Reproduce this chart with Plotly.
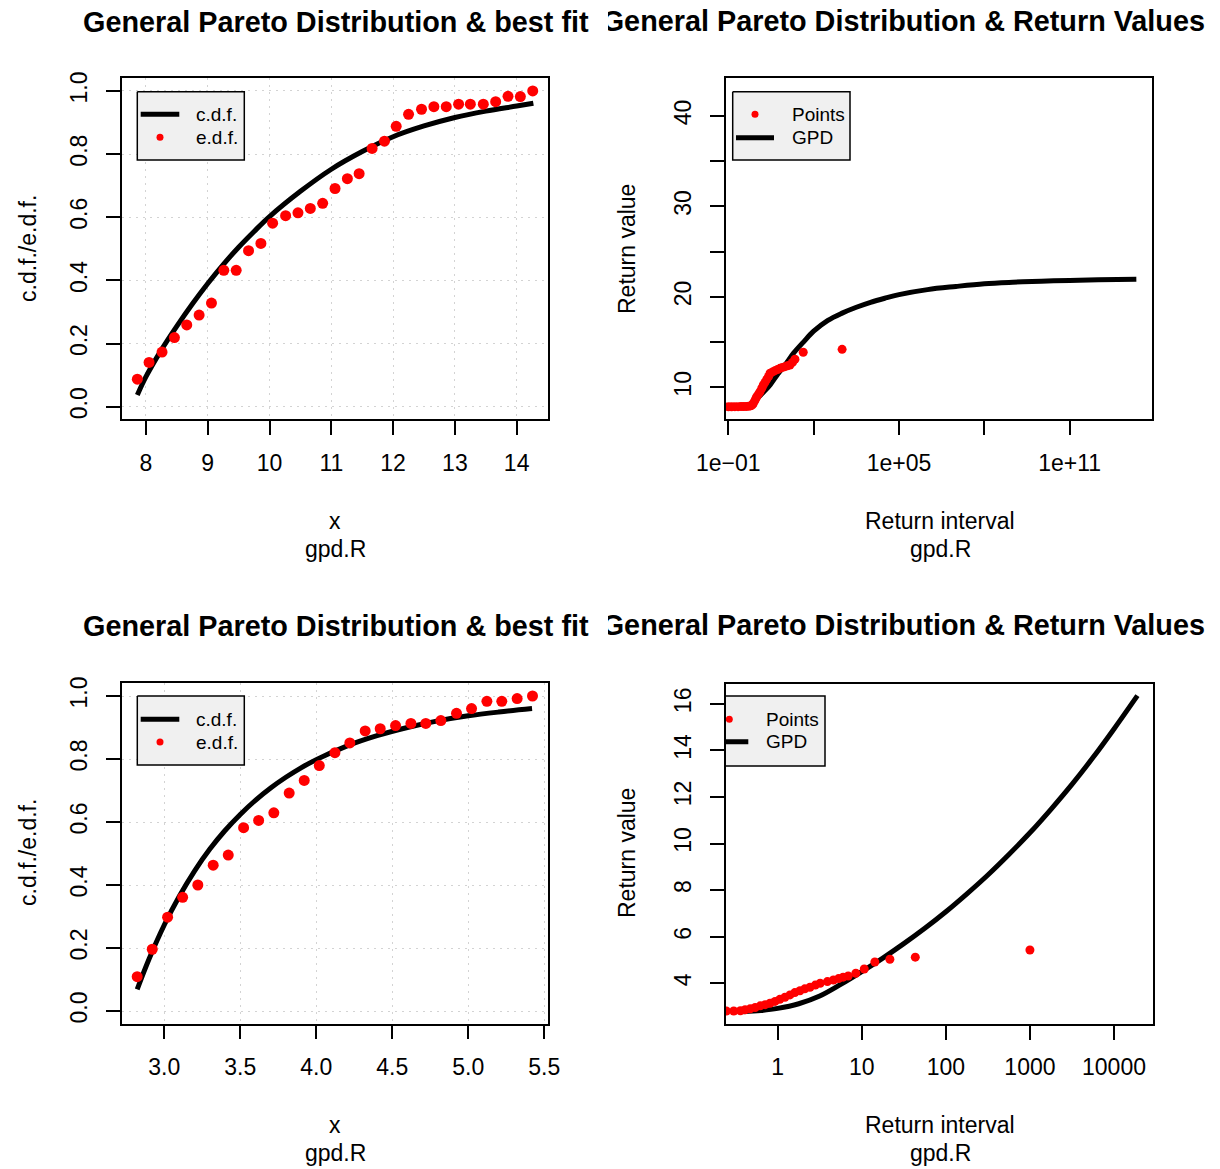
import plotly.graph_objects as go

# ---------------- data ----------------
# Panel 1: GPD best fit (dataset 1)
p1_edf_x = [7.86, 8.05, 8.26, 8.46, 8.66, 8.86, 9.06, 9.26, 9.46, 9.66, 9.86, 10.05, 10.26,
            10.46, 10.66, 10.86, 11.06, 11.26, 11.45, 11.66, 11.86, 12.05, 12.25, 12.46,
            12.66, 12.86, 13.06, 13.25, 13.46, 13.66, 13.86, 14.06, 14.26]
p1_edf_y = [0.087, 0.140, 0.173, 0.219, 0.259, 0.290, 0.328, 0.432, 0.432, 0.494, 0.517,
            0.581, 0.605, 0.614, 0.628, 0.644, 0.691, 0.722, 0.738, 0.818, 0.841, 0.888,
            0.926, 0.942, 0.950, 0.950, 0.958, 0.958, 0.958, 0.966, 0.983, 0.982, 1.0]
p1_cdf_x = [7.86, 8.0, 8.25, 8.5, 8.75, 9.0, 9.25, 9.5, 9.75, 10.0, 10.5, 11.0, 11.5,
            12.0, 12.5, 13.0, 13.5, 14.0, 14.27]
p1_cdf_y = [0.037, 0.095, 0.18, 0.255, 0.325, 0.39, 0.45, 0.505, 0.555, 0.602, 0.682,
            0.752, 0.808, 0.855, 0.889, 0.916, 0.936, 0.952, 0.961]

# Panel 2: return values (dataset 1)
p2_pts_T = [0.05, 0.07, 0.1, 0.13, 0.17, 0.22, 0.28, 0.35, 0.43, 0.52, 0.62, 0.7, 0.76,
            0.85, 0.93, 1.0, 1.15, 1.3, 1.5, 1.7, 1.95, 2.24, 2.6, 2.93, 3.6, 4.37, 5.4,
            6.56, 8.0, 9.8, 12.0, 14.7, 18.0, 22.0, 43.0, 1000.0]
p2_pts_v = [7.85, 7.85, 7.85, 7.85, 7.86, 7.86, 7.87, 7.88, 7.89, 7.9, 7.95, 8.05, 8.23,
            8.5, 8.75, 8.96, 9.25, 9.51, 9.9, 10.25, 10.55, 10.88, 11.2, 11.55, 11.7,
            11.84, 11.97, 12.1, 12.2, 12.28, 12.38, 12.47, 12.75, 13.1, 13.87, 14.2]
p2_gpd_T = [0.3, 0.56, 1.0, 1.78, 3.0, 5.6, 10.0, 20.0, 43.7, 100, 316, 1e3, 3.16e3, 1e4,
            3.16e4, 1e5, 1e6, 1e7, 1e8, 1e9, 1e10, 1e11, 1e12, 2.2e13]
p2_gpd_v = [7.8, 7.95, 8.7, 9.5, 10.3, 11.5, 12.5, 13.8, 15.0, 16.2, 17.4, 18.2, 18.85,
            19.4, 19.85, 20.25, 20.8, 21.15, 21.45, 21.62, 21.74, 21.82, 21.88, 21.94]

# Panel 3: GPD best fit (dataset 2)
p3_edf_x = [2.822, 2.921, 3.022, 3.121, 3.221, 3.322, 3.421, 3.522, 3.621, 3.721, 3.822,
            3.921, 4.020, 4.123, 4.221, 4.322, 4.421, 4.522, 4.623, 4.721, 4.820, 4.923,
            5.022, 5.123, 5.221, 5.322, 5.423]
p3_edf_y = [0.109, 0.196, 0.298, 0.361, 0.400, 0.463, 0.495, 0.582, 0.605, 0.629, 0.692,
            0.732, 0.779, 0.820, 0.851, 0.889, 0.896, 0.906, 0.913, 0.913, 0.922, 0.945,
            0.960, 0.983, 0.983, 0.992, 1.0]
p3_cdf_x = [2.822, 2.9, 3.0, 3.1, 3.2, 3.3, 3.4, 3.5, 3.6, 3.7, 3.8, 3.9, 4.0, 4.2, 4.4,
            4.6, 4.8, 5.0, 5.2, 5.42]
p3_cdf_y = [0.069, 0.165, 0.273, 0.365, 0.445, 0.514, 0.573, 0.624, 0.669, 0.708, 0.742,
            0.772, 0.798, 0.841, 0.874, 0.900, 0.921, 0.937, 0.949, 0.960]

# Panel 4: return values (dataset 2)
p4_pts_T = [0.12, 0.16, 0.2, 0.245, 0.3, 0.36, 0.41, 0.47, 0.54, 0.62, 0.71, 0.81, 0.93,
            1.06, 1.22, 1.4, 1.6, 1.84, 2.1, 2.42, 2.8, 3.2, 3.9, 4.6, 5.3, 6.0, 6.9, 8.5,
            10.7, 14.3, 21.6, 43.3, 1000.0]
p4_pts_v = [2.8, 2.8, 2.8, 2.81, 2.81, 2.82, 2.86, 2.9, 2.96, 3.03, 3.08, 3.14, 3.22, 3.31,
            3.4, 3.5, 3.6, 3.68, 3.76, 3.83, 3.92, 4.0, 4.07, 4.14, 4.2, 4.26, 4.31, 4.43,
            4.61, 4.91, 5.03, 5.12, 5.43]
p4_gpd_T = [0.39, 0.63, 1.0, 1.78, 3.16, 5.62, 10, 17.8, 31.6, 56.2, 100, 178, 316, 562,
            1000, 1778, 3162, 5623, 10000, 19000]
p4_gpd_v = [2.78, 2.83, 2.92, 3.12, 3.45, 3.95, 4.5, 5.08, 5.7, 6.36, 7.07, 7.84, 8.65,
            9.53, 10.46, 11.47, 12.54, 13.69, 14.92, 16.35]

# tick labels
p1_xticks = [8, 9, 10, 11, 12, 13, 14]
p3_xticks = [3.0, 3.5, 4.0, 4.5, 5.0, 5.5]
p3_xtext = ["3.0", "3.5", "4.0", "4.5", "5.0", "5.5"]
cdf_yticks = [0, 0.2, 0.4, 0.6, 0.8, 1.0]
cdf_ytext = ["0.0", "0.2", "0.4", "0.6", "0.8", "1.0"]
p2_xticks = [1e-1, 1e2, 1e5, 1e8, 1e11]
p2_xtext = ["1e\u221201", "", "1e+05", "", "1e+11"]
p2_yticks = [10, 15, 20, 25, 30, 35, 40]
p2_ytext = ["10", "", "20", "", "30", "", "40"]
p4_xticks = [1, 10, 100, 1000, 10000]
p4_xtext = ["1", "10", "100", "1000", "10000"]
p4_yticks = [4, 6, 8, 10, 12, 14, 16]

title_fit = "General Pareto Distribution & best fit"
title_rv = "General Pareto Distribution & Return Values"

# ---------------- layout helpers ----------------
W, H = 1220, 1169
FONT = "Liberation Sans"
RED = "#ff0000"
TITLE_SIZE = 28.8

P = {
    1: dict(x0=121.7, x1=548.3, y0=78.3, y1=419.3),
    2: dict(x0=726.0, x1=1152.3, y0=78.3, y1=419.3),
    3: dict(x0=121.7, x1=548.3, y0=683.4, y1=1023.6),
    4: dict(x0=726.0, x1=1153.0, y0=684.0, y1=1024.0),
}


def xd(p):
    return [P[p]["x0"] / W, P[p]["x1"] / W]


def yd(p):
    return [1 - P[p]["y1"] / H, 1 - P[p]["y0"] / H]


def px(x):
    return x / W


def py(y):
    return 1 - y / H


fig = go.Figure()

# ---------------- panel traces ----------------
fig.add_trace(go.Scatter(x=p1_cdf_x, y=p1_cdf_y, mode="lines", line=dict(color="black", width=5, shape="spline"),
                         xaxis="x", yaxis="y", showlegend=False))
fig.add_trace(go.Scatter(x=p1_edf_x, y=p1_edf_y, mode="markers", marker=dict(color=RED, size=11),
                         xaxis="x", yaxis="y", showlegend=False))

fig.add_trace(go.Scatter(x=p2_gpd_T, y=p2_gpd_v, mode="lines", line=dict(color="black", width=5, shape="spline"),
                         xaxis="x2", yaxis="y2", showlegend=False))
fig.add_trace(go.Scatter(x=p2_pts_T, y=p2_pts_v, mode="markers", marker=dict(color=RED, size=9),
                         xaxis="x2", yaxis="y2", showlegend=False))

fig.add_trace(go.Scatter(x=p3_cdf_x, y=p3_cdf_y, mode="lines", line=dict(color="black", width=5, shape="spline"),
                         xaxis="x3", yaxis="y3", showlegend=False))
fig.add_trace(go.Scatter(x=p3_edf_x, y=p3_edf_y, mode="markers", marker=dict(color=RED, size=11),
                         xaxis="x3", yaxis="y3", showlegend=False))

fig.add_trace(go.Scatter(x=p4_gpd_T, y=p4_gpd_v, mode="lines", line=dict(color="black", width=5, shape="spline"),
                         xaxis="x4", yaxis="y4", showlegend=False))
fig.add_trace(go.Scatter(x=p4_pts_T, y=p4_pts_v, mode="markers", marker=dict(color=RED, size=9),
                         xaxis="x4", yaxis="y4", showlegend=False))

# ---------------- legends (overlay axes in pixel units, clipped to panel) ----------------
legends = {
    1: dict(box=(137.3, 91.7, 244.3, 160.0), line=(140.7, 179.3, 114.3), dot=(160.0, 137.3),
            texts=[("c.d.f.", 194, 114.3), ("e.d.f.", 194, 137.3)]),
    3: dict(box=(137.3, 696.0, 244.3, 765.0), line=(140.7, 179.3, 719.3), dot=(160.0, 742.0),
            texts=[("c.d.f.", 194, 719.3), ("e.d.f.", 194, 742.0)]),
    2: dict(box=(732.7, 91.7, 850.0, 160.0), line=(736.0, 774.0, 137.7), dot=(755.0, 114.3),
            texts=[("Points", 790, 114.3), ("GPD", 790, 137.7)]),
    4: dict(box=(725.0, 696.0, 825.0, 766.0), line=(710.0, 748.3, 741.7), dot=(729.3, 719.3),
            texts=[("Points", 764.3, 719.3), ("GPD", 764.3, 741.7)]),
}

annotations = []
for k, L in legends.items():
    ox, oy = "x%d" % (k + 4), "y%d" % (k + 4)
    x0, y0, x1, y1 = L["box"]
    fig.add_trace(go.Scatter(x=[x0, x1, x1, x0, x0], y=[y0, y0, y1, y1, y0], mode="lines", fill="toself",
                             fillcolor="#f0f0f0", line=dict(color="black", width=1.5),
                             xaxis=ox, yaxis=oy, showlegend=False, hoverinfo="skip"))
    lx0, lx1, ly = L["line"]
    fig.add_trace(go.Scatter(x=[lx0, lx1], y=[ly, ly], mode="lines", line=dict(color="black", width=5),
                             xaxis=ox, yaxis=oy, showlegend=False, hoverinfo="skip"))
    fig.add_trace(go.Scatter(x=[L["dot"][0]], y=[L["dot"][1]], mode="markers",
                             marker=dict(color=RED, size=7), xaxis=ox, yaxis=oy, showlegend=False,
                             hoverinfo="skip"))
    for t, tx, ty in L["texts"]:
        annotations.append(dict(text=t, x=px(tx), y=py(ty), xref="paper", yref="paper", xanchor="left",
                                yanchor="middle", showarrow=False,
                                font=dict(family=FONT, size=19, color="black")))

# right-hand titles: clipped at the left edge of the right figure region
fig.add_trace(go.Scatter(x=[1205, 1205], y=[24, 628], mode="text", text=[title_rv, title_rv],
                         textposition="middle left", cliponaxis=True,
                         textfont=dict(family=FONT, size=TITLE_SIZE, color="black", weight="bold"),
                         xaxis="x9", yaxis="y9", showlegend=False, hoverinfo="skip"))

# ---------------- text annotations ----------------
for cx, cy in [(336, 22), (336, 626)]:
    annotations.append(dict(text="<b>%s</b>" % title_fit, x=px(cx), y=py(cy), xref="paper", yref="paper",
                            xanchor="center", yanchor="middle", showarrow=False,
                            font=dict(family=FONT, size=TITLE_SIZE, color="black")))

lab_font = dict(family=FONT, size=23, color="black")
for cx, top in [(335, 0), (940, 0), (335, 604), (940, 604)]:
    xl = "x" if cx == 335 else "Return interval"
    annotations.append(dict(text=xl, x=px(cx), y=py(521 + top), xref="paper", yref="paper",
                            xanchor="center", yanchor="middle", showarrow=False, font=lab_font))
    annotations.append(dict(text="gpd.R", x=px(cx), y=py(549 + top), xref="paper", yref="paper",
                            xanchor="center", yanchor="middle", showarrow=False, font=lab_font))
for cx, cy, t in [(28, 249, "c.d.f./e.d.f."), (627, 249, "Return value"),
                  (28, 853, "c.d.f./e.d.f."), (627, 853, "Return value")]:
    annotations.append(dict(text=t, x=px(cx), y=py(cy), xref="paper", yref="paper", textangle=-90,
                            xanchor="center", yanchor="middle", showarrow=False, font=lab_font))

# ---------------- axes ----------------
tick_font = dict(family=FONT, size=23, color="black")
common = dict(showline=True, mirror=True, linecolor="black", linewidth=1.5, ticks="outside", ticklen=14,
              tickwidth=1.5, tickcolor="black", tickfont=tick_font, zeroline=False, showgrid=False,
              fixedrange=True, automargin=False)
grid = dict(showgrid=True, gridcolor="#d3d3d3", griddash="2px,5px", gridwidth=1.2)

layout_axes = dict(
    xaxis=dict(common, **grid, domain=xd(1), anchor="y", range=[7.607, 14.512], tickvals=p1_xticks,
               ticklabelstandoff=8),
    yaxis=dict(common, **grid, domain=yd(1), anchor="x", range=[-0.04, 1.04], tickvals=cdf_yticks,
               ticktext=cdf_ytext, tickangle=-90, ticklabelstandoff=10),
    xaxis2=dict(common, domain=xd(2), anchor="y2", type="log", range=[-1.081, 13.903], tickvals=p2_xticks,
                ticktext=p2_xtext, ticklabelstandoff=8),
    yaxis2=dict(common, domain=yd(2), anchor="x2", range=[6.461, 44.17], tickvals=p2_yticks,
                ticktext=p2_ytext, tickangle=-90, ticklabelstandoff=10),
    xaxis3=dict(common, **grid, domain=xd(3), anchor="y3", range=[2.72, 5.527], tickvals=p3_xticks,
                ticktext=p3_xtext, ticklabelstandoff=8),
    yaxis3=dict(common, **grid, domain=yd(3), anchor="x3", range=[-0.04, 1.04], tickvals=cdf_yticks,
                ticktext=cdf_ytext, tickangle=-90, ticklabelstandoff=10),
    xaxis4=dict(common, domain=xd(4), anchor="y4", type="log", range=[-0.615, 4.464], tickvals=p4_xticks,
                ticktext=p4_xtext, ticklabelstandoff=8),
    yaxis4=dict(common, domain=yd(4), anchor="x4", range=[2.25, 16.85], tickvals=p4_yticks,
                tickangle=-90, ticklabelstandoff=10),
)
for k in range(1, 5):
    n = k + 4
    layout_axes["xaxis%d" % n] = dict(overlaying="x" if k == 1 else "x%d" % k, anchor="y%d" % n,
                                      range=[P[k]["x0"], P[k]["x1"]], visible=False, fixedrange=True,
                                      automargin=False)
    layout_axes["yaxis%d" % n] = dict(overlaying="y" if k == 1 else "y%d" % k, anchor="x%d" % n,
                                      range=[P[k]["y1"], P[k]["y0"]], visible=False, fixedrange=True,
                                      automargin=False)
layout_axes["xaxis9"] = dict(domain=[608 / W, 1.0], anchor="y9", range=[608, W], visible=False,
                             fixedrange=True, automargin=False)
layout_axes["yaxis9"] = dict(domain=[0.0, 1.0], anchor="x9", range=[H, 0], visible=False,
                             fixedrange=True, automargin=False)

fig.update_layout(
    template="none",
    width=W, height=H, margin=dict(l=0, r=0, t=0, b=0, pad=0), autosize=False,
    paper_bgcolor="white", plot_bgcolor="rgba(0,0,0,0)", showlegend=False,
    annotations=annotations, font=dict(family=FONT, color="black"),
    **layout_axes,
)

fig.write_html("out.html", config=dict(displayModeBar=False))
